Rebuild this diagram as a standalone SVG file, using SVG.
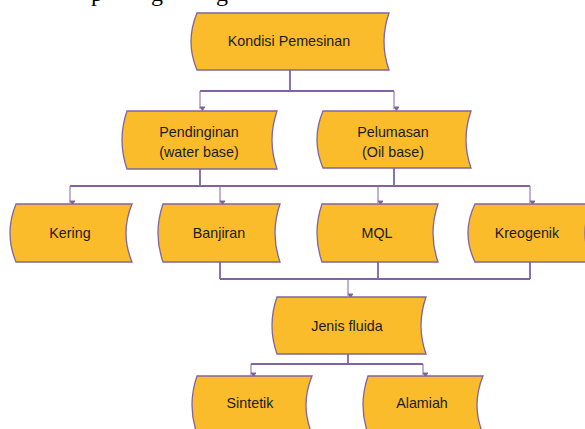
<svg xmlns="http://www.w3.org/2000/svg" width="585" height="429" viewBox="0 0 585 429">
<defs>
<style>
.node path{fill:#FBBC2B;stroke:#8064A2;stroke-width:1.3}
.node text{font-family:"Liberation Sans",Arial,sans-serif;font-size:14.3px;fill:#1a1a1a;text-anchor:middle}
.bar{fill:none;stroke:#8064A2;stroke-width:1.8}
.drop{fill:none;stroke:#8064A2;stroke-width:1;marker-end:url(#arr)}
.doc{font-family:"Liberation Serif","Times New Roman",serif;font-size:24px;fill:#000}
</style>
<marker id="arr" viewBox="0 0 6 5" refX="3" refY="5" markerWidth="6" markerHeight="5" markerUnits="userSpaceOnUse" orient="auto-start-reverse">
<path d="M0,0 L6,0 L3,5 Z" fill="#8064A2" transform="rotate(-90 3 2.5)"/>
</marker>
</defs>
<rect width="585" height="429" fill="#fff"/>
<g id="doc-text">
<text class="doc" x="91" y="0.5">p</text>
<text class="doc" x="151" y="0.5">g</text>
<text class="doc" x="216" y="0.5">g</text>
</g>
<g id="connectors">
<path class="bar" d="M290,70 V91 M200,91 H394"/>
<path class="drop" d="M200,91 V109"/>
<path class="drop" d="M394,91 V109"/>
<path class="bar" d="M200,169 V186 M394,168 V186 M70,186 H530"/>
<path class="drop" d="M70,186 V203"/>
<path class="drop" d="M220,186 V203"/>
<path class="drop" d="M378,186 V203"/>
<path class="drop" d="M530,186 V203"/>
<path class="bar" d="M220,262 V279 M378,262 V279 M530,262 V279 M220,279 H530"/>
<path class="drop" d="M348,279 V296"/>
<path class="bar" d="M348,354 V364 M251,364 H423"/>
<path class="drop" d="M251,364 V375"/>
<path class="drop" d="M423,364 V375"/>
</g>
<g id="n-kondisi" class="node">
<path d="M197,13 H389 Q379,41.5 389,70 H197 Q185,41.5 197,13 Z"/>
<text x="289" y="46">Kondisi Pemesinan</text>
</g>
<g id="n-pendinginan" class="node">
<path d="M127,111 H277 Q267,140 277,169 H127 Q117,140 127,111 Z"/>
<text x="199" y="136.5">Pendinginan</text>
<text x="199" y="157">(water base)</text>
</g>
<g id="n-pelumasan" class="node">
<path d="M323,111 H471 Q461,139.5 471,168 H323 Q311,139.5 323,111 Z"/>
<text x="393" y="136.5">Pelumasan</text>
<text x="393" y="157">(Oil base)</text>
</g>
<g id="n-kering" class="node">
<path d="M16,204 H132 Q120,233 132,262 H16 Q4,233 16,204 Z"/>
<text x="70" y="238">Kering</text>
</g>
<g id="n-banjiran" class="node">
<path d="M163,204 H280 Q270,233 280,262 H163 Q153,233 163,204 Z"/>
<text x="219" y="238">Banjiran</text>
</g>
<g id="n-mql" class="node">
<path d="M322,204 H438 Q428,233 438,262 H322 Q312,233 322,204 Z"/>
<text x="377" y="238">MQL</text>
</g>
<g id="n-kreogenik" class="node">
<path d="M475,204 H591 Q579,233 591,262 H475 Q461,233 475,204 Z"/>
<text x="527" y="238">Kreogenik</text>
</g>
<g id="n-jenis" class="node">
<path d="M277,297 H426 Q416,325.5 426,354 H277 Q267,325.5 277,297 Z"/>
<text x="347" y="330.5">Jenis fluida</text>
</g>
<g id="n-sintetik" class="node">
<path d="M197,376 H312 Q300,405 312,434 H197 Q187,405 197,376 Z"/>
<text x="250" y="408">Sintetik</text>
</g>
<g id="n-alamiah" class="node">
<path d="M368,376 H483 Q471,405 483,434 H368 Q358,405 368,376 Z"/>
<text x="422" y="408">Alamiah</text>
</g>
</svg>
